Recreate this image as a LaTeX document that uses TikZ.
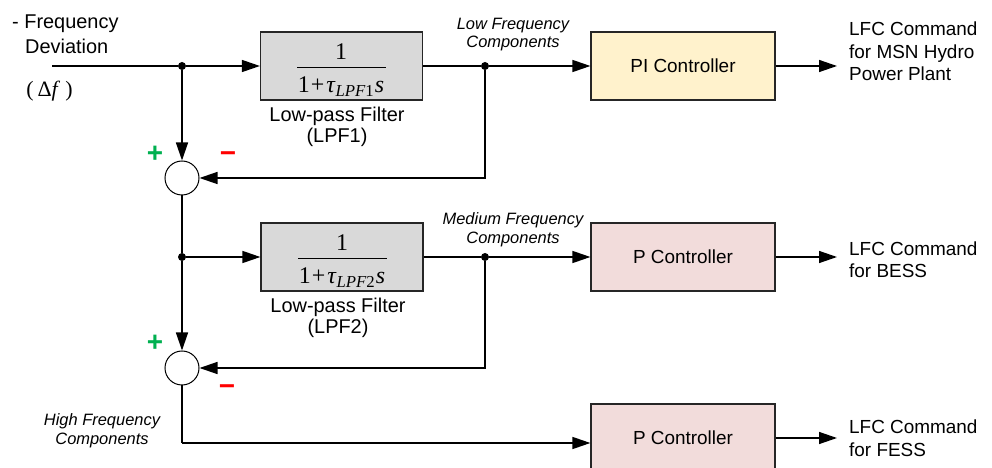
\documentclass[tikz,border=0pt]{standalone}
\usepackage{fontspec}
\setmainfont{Liberation Sans}
\newfontfamily\tmfont{Liberation Serif}
\newfontfamily\signfont{Liberation Sans}
\usetikzlibrary{arrows.meta}

\definecolor{pifill}{RGB}{255,242,204}
\definecolor{pfill}{RGB}{242,220,219}
\definecolor{lpffill}{RGB}{217,217,217}
\definecolor{plusgreen}{RGB}{0,176,80}
\definecolor{minusred}{RGB}{255,0,0}

\begin{document}
\begin{tikzpicture}[x=1bp,y=-1bp,
  wire/.style={line width=1.4bp, draw=black},
  arr/.style={wire, -{Triangle[length=18bp,width=12bp]}},
  blk/.style={draw=black!85, line width=1.2bp, minimum width=184bp,
    minimum height=68bp, inner sep=0pt, font=\fontsize{19}{22}\selectfont},
  filt/.style={blk, fill=lpffill, minimum width=162bp},
  sumnode/.style={circle, draw, line width=1bp, minimum size=34bp,
    inner sep=0pt, fill=white},
  dot/.style={circle, fill=black, minimum size=8bp, inner sep=0pt},
  lbl/.style={font=\fontsize{19}{23}\selectfont, inner sep=0pt, align=left},
  inlbl/.style={font=\fontsize{20}{24}\selectfont, inner sep=0pt},
  caption/.style={font=\fontsize{20}{21.5}\selectfont, inner sep=0pt, align=center},
  comp/.style={font=\fontsize{16.5}{19}\selectfont\itshape, inner sep=0pt, align=center},
  frac/.style={font=\tmfont\fontsize{24}{26}\selectfont, inner sep=0pt},
  plus/.style={font=\signfont\bfseries\fontsize{28}{28}\selectfont, text=plusgreen, inner sep=0pt},
  minus/.style={font=\signfont\bfseries\fontsize{28}{28}\selectfont, text=minusred, inner sep=0pt}
]
\useasboundingbox (0,0) rectangle (992,468);
\clip (0,0) rectangle (992,468);

% blocks
\node[filt] (lpf1) at (341.5,66) {};
\node[filt] (lpf2) at (342,257) {};
\node[blk, fill=pifill] (pi) at (683,66) {PI Controller};
\node[blk, fill=pfill] (p1) at (683,257) {P Controller};
\node[blk, fill=pfill] (p2) at (683,438) {P Controller};

% transfer functions of the two filters
\node[frac, anchor=base] (num1) at (341,59.5) {1};
\draw[line width=1bp] (297,68) -- (386,68);
\node[frac, anchor=base] (den1) at (341,92.5)
  {1\kern1pt+\kern2pt\textit{τ}\textsubscript{\textit{LPF}1}\kern0.5pt\textit{s}};
\node[frac, anchor=base] (num2) at (342,250.5) {1};
\draw[line width=1bp] (298,259) -- (387,259);
\node[frac, anchor=base] (den2) at (342,283.5)
  {1\kern1pt+\kern2pt\textit{τ}\textsubscript{\textit{LPF}2}\kern0.5pt\textit{s}};

% summing junctions and branch points
\node[sumnode] (s1) at (182,178) {};
\node[sumnode] (s2) at (182,368) {};
\node[dot] (d1) at (182,66) {};
\node[dot] (d2) at (485,66) {};
\node[dot] (d3) at (182,257) {};
\node[dot] (d4) at (485,257) {};
\coordinate (in) at (52,66);
\coordinate (hf) at (182,443);
\coordinate (o1) at (837,66);
\coordinate (o2) at (837,257);
\coordinate (o3) at (837,438);

% signal flow
\draw[wire] (in) -- (d1);
\draw[arr] (d1) -- (lpf1);
\draw[wire] (lpf1) -- (d2);
\draw[arr] (d2) -- (pi);
\draw[arr] (pi) -- (o1);
\draw[arr] (d1) -- (s1);
\draw[arr] (d2) |- (s1);
\draw[wire] (s1) -- (d3);
\draw[arr] (d3) -- (lpf2);
\draw[wire] (lpf2) -- (d4);
\draw[arr] (d4) -- (p1);
\draw[arr] (p1) -- (o2);
\draw[arr] (d3) -- (s2);
\draw[arr] (d4) |- (s2);
\draw[wire] (s2) -- (hf);
\draw[arr] (hf) -- (p2.west |- hf);
\draw[arr] (p2) -- (o3);

% signs at the junctions
\node[plus] (pl1) at (155,154.5) {+};
\node[minus] (mi1) at (228,157) {−};
\node[plus] (pl2) at (155,343) {+};
\node[minus] (mi2) at (227,390) {−};

% input labels
\node[inlbl, anchor=base west] (fd1) at (12,29) {- Frequency};
\node[inlbl, anchor=base west] (fd2) at (25,53.5) {Deviation};
\node[frac, anchor=base, font=\tmfont\fontsize{22}{24}\selectfont] (df) at (49.5,96.5)
  {(\kern4pt Δ\textit{f}\kern5pt)};

% filter captions (base = last line)
\node[caption, anchor=base] (c1) at (337,143) {Low-pass Filter\\(LPF1)};
\node[caption, anchor=base] (c2) at (338,334) {Low-pass Filter\\(LPF2)};

% frequency band labels
\node[comp, anchor=base] (lf) at (513,48) {Low Frequency\\Components};
\node[comp, anchor=base] (mf) at (513,243.5) {Medium Frequency\\Components};
\node[comp, anchor=base] (hfl) at (102,444) {High Frequency\\Components};

% output labels
\node[lbl, anchor=base west] (out1) at (849,81) {LFC Command\\for MSN Hydro\\Power Plant};
\node[lbl, anchor=base west] (out2) at (849,278) {LFC Command\\for BESS};
\node[lbl, anchor=base west] (out3) at (849,456) {LFC Command\\for FESS};
\end{tikzpicture}
\end{document}
